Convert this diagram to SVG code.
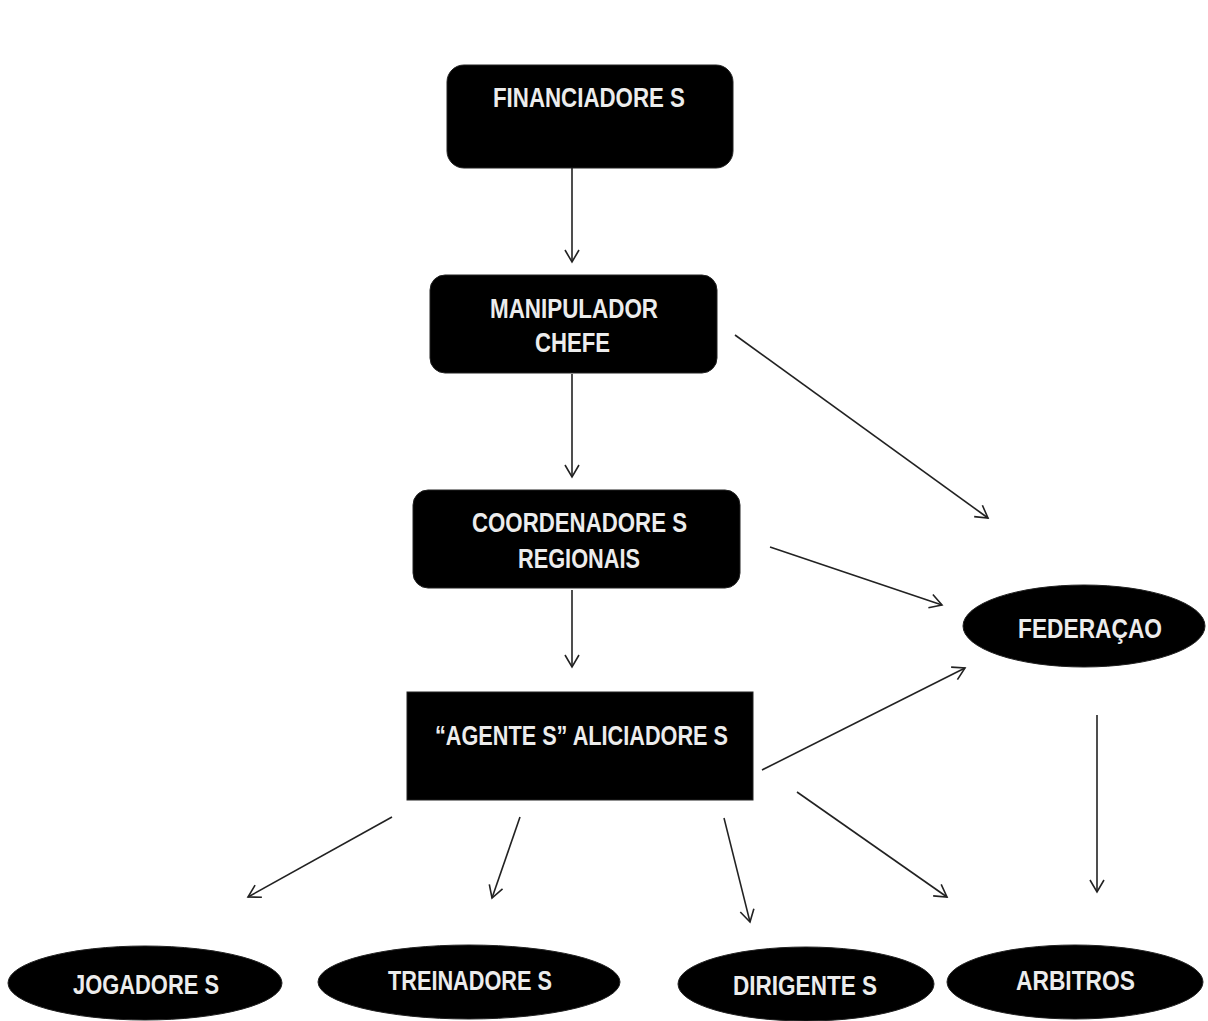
<svg xmlns="http://www.w3.org/2000/svg" width="1208" height="1021" viewBox="0 0 1208 1021">
<style>
.box{fill:#000;stroke:#222;stroke-width:1}
.lbl{font-family:"Liberation Sans Narrow","Liberation Sans",Arial,sans-serif;font-weight:bold;fill:#ececec;font-size:27px}
.edge{stroke:#222;stroke-width:1.6;fill:none;marker-end:url(#arr)}
</style>
<defs>
<marker id="arr" markerUnits="userSpaceOnUse" markerWidth="16" markerHeight="16" viewBox="0 0 16 16" refX="14" refY="8" orient="auto">
<path d="M2,1 L14,8 L2,15" fill="none" stroke="#222" stroke-width="1.6"/>
</marker>
</defs>
<rect width="1208" height="1021" fill="#fff"/>
<g id="connectors">
<line class="edge" x1="572" y1="168" x2="572" y2="262"/>
<line class="edge" x1="572" y1="374" x2="572" y2="477"/>
<line class="edge" x1="572" y1="590" x2="572" y2="667"/>
<line class="edge" x1="735" y1="335" x2="988" y2="518"/>
<line class="edge" x1="770" y1="547" x2="942" y2="605"/>
<line class="edge" x1="762" y1="770" x2="965" y2="668"/>
<line class="edge" x1="1097" y1="715" x2="1097" y2="892"/>
<line class="edge" x1="392" y1="817" x2="248" y2="897"/>
<line class="edge" x1="520" y1="817" x2="492" y2="898"/>
<line class="edge" x1="724" y1="818" x2="750" y2="922"/>
<line class="edge" x1="797" y1="792" x2="947" y2="897"/>
</g>
<g id="financiadores">
<rect class="box" x="447" y="65" width="286" height="103" rx="17"/>
<text class="lbl" x="493" y="107" textLength="192" lengthAdjust="spacingAndGlyphs">FINANCIADORE S</text>
</g>
<g id="manipulador">
<rect class="box" x="430" y="275" width="287" height="98" rx="15"/>
<text class="lbl" x="490" y="318" textLength="168" lengthAdjust="spacingAndGlyphs">MANIPULADOR</text>
<text class="lbl" x="535" y="352" textLength="75" lengthAdjust="spacingAndGlyphs">CHEFE</text>
</g>
<g id="coordenadores">
<rect class="box" x="413" y="490" width="327" height="98" rx="15"/>
<text class="lbl" x="472" y="532" textLength="215" lengthAdjust="spacingAndGlyphs">COORDENADORE S</text>
<text class="lbl" x="518" y="568" textLength="122" lengthAdjust="spacingAndGlyphs">REGIONAIS</text>
</g>
<g id="agentes">
<rect class="box" x="407" y="692" width="346" height="108"/>
<text class="lbl" x="435" y="745" textLength="293" lengthAdjust="spacingAndGlyphs">“AGENTE S” ALICIADORE S</text>
</g>
<g id="federacao">
<ellipse class="box" cx="1084" cy="626" rx="121" ry="41"/>
<text class="lbl" x="1018" y="638" textLength="144" lengthAdjust="spacingAndGlyphs">FEDERAÇAO</text>
</g>
<g id="jogadores">
<ellipse class="box" cx="145" cy="983" rx="137" ry="37"/>
<text class="lbl" x="73" y="994" textLength="146" lengthAdjust="spacingAndGlyphs">JOGADORE S</text>
</g>
<g id="treinadores">
<ellipse class="box" cx="469" cy="982" rx="151" ry="37"/>
<text class="lbl" x="388" y="990" textLength="164" lengthAdjust="spacingAndGlyphs">TREINADORE S</text>
</g>
<g id="dirigentes">
<ellipse class="box" cx="806" cy="984" rx="128" ry="37"/>
<text class="lbl" x="733" y="995" textLength="144" lengthAdjust="spacingAndGlyphs">DIRIGENTE S</text>
</g>
<g id="arbitros">
<ellipse class="box" cx="1075" cy="982" rx="128" ry="37"/>
<text class="lbl" x="1016" y="990" textLength="119" lengthAdjust="spacingAndGlyphs">ARBITROS</text>
</g>
</svg>
